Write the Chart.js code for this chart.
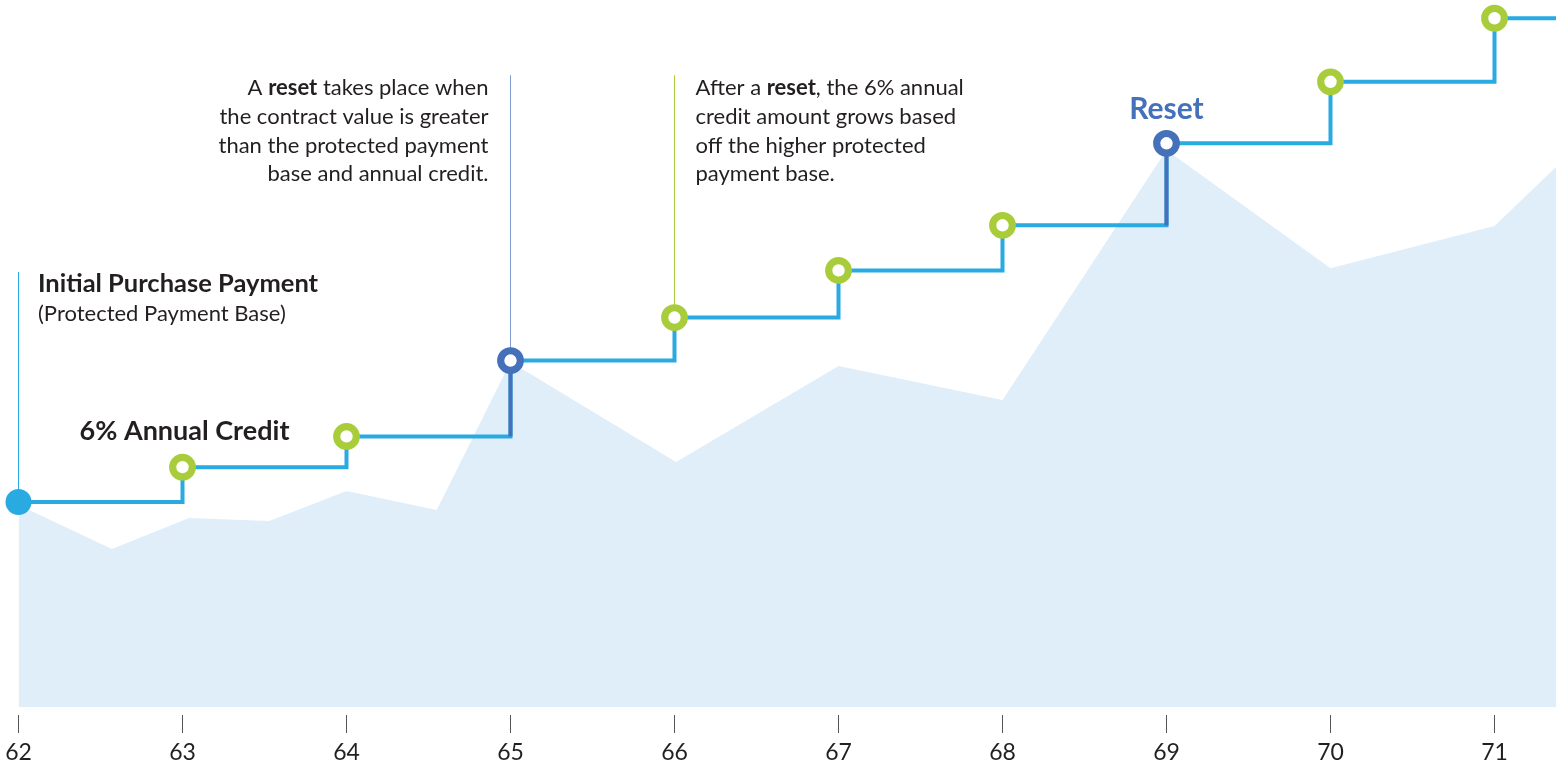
<!DOCTYPE html>
<html>
<head>
<meta charset="utf-8">
<script src="https://cdn.jsdelivr.net/npm/chart.js@4.4.1/dist/chart.umd.min.js"></script>
<style>
html,body{margin:0;padding:0;background:#ffffff;}
#wrap{width:1556px;height:763px;position:relative;}
</style>
</head>
<body>
<div id="wrap"><canvas id="c" width="1556" height="763"></canvas></div>
<script>
// ---- data ----
const ages = [62, 63, 64, 65, 66, 67, 68, 69, 70, 71];
const tickLabels = ['62', '63', '64', '65', '66', '67', '68', '69', '70', '71'];
const protectedBase = [100, 117, 132, 169, 190, 213, 235, 275, 305, 336];
const pointKinds = ['start', 'credit', 'credit', 'reset', 'credit', 'credit', 'credit', 'reset', 'credit', 'credit'];
const contractAges = [62, 62.57, 63.04, 63.53, 64, 64.55, 65, 66.01, 67, 68, 69, 70, 71, 71.375];
const contractValue = [98.5, 77.1, 92.2, 90.7, 105.4, 96.1, 168.3, 119.5, 166.3, 149.8, 271.7, 214.1, 234.6, 263.4];
const leaderAges = [62, 65, 66];
const leaderTops = [212, 308, 308];
const xMin = 62, xMax = 71.375, yMin = -3.9, yMax = 344.9;

// ---- text ----
const initialTitle = 'Initial Purchase Payment';
const initialSub = '(Protected Payment Base)';
const creditLabel = '6% Annual Credit';
const resetLabel = 'Reset';
const resetNote = [
  [['A ', false], ['reset', true], [' takes place when', false]],
  [['the contract value is greater', false]],
  [['than the protected payment', false]],
  [['base and annual credit.', false]]
];
const afterNote = [
  [['After a ', false], ['reset', true], [', the 6% annual', false]],
  [['credit amount grows based', false]],
  [['off the higher protected', false]],
  [['payment base.', false]]
];

// ---- styles ----
const C_LINE = '#29ABE2';
const C_GREEN = '#A9CD3A';
const C_DARK = '#4570BA';
const C_AREA = '#E0EEF9';
const C_TEXT = '#231F20';
const FONT = 'Lato, "Open Sans", sans-serif';

const stepData = ages.map((a, i) => ({x: a, y: protectedBase[i]}));
stepData.push({x: xMax, y: protectedBase[protectedBase.length - 1]});

const resetSets = [];
pointKinds.forEach((k, i) => {
  if (k === 'reset') {
    resetSets.push({
      type: 'line',
      data: [{x: ages[i], y: protectedBase[i - 1]}, {x: ages[i], y: protectedBase[i]}],
      borderColor: C_DARK, borderWidth: 4, pointRadius: 0, fill: false, order: 2, clip: false
    });
  }
});

const leaderColors = [C_LINE, '#7F9BCF', C_GREEN];
const leaderSets = leaderAges.map((a, i) => ({
  type: 'line',
  data: [{x: a, y: leaderTops[i]}, {x: a, y: protectedBase[ages.indexOf(a)]}],
  borderColor: leaderColors[i], borderWidth: 1, pointRadius: 0, fill: false, order: 4, clip: false
}));

const markerColor = k => k === 'start' ? C_LINE : (k === 'reset' ? C_DARK : C_GREEN);

const textPlugin = {
  id: 'notes',
  afterDraw(chart) {
    const ctx = chart.ctx;
    const xs = chart.scales.x;
    ctx.save();
    ctx.textBaseline = 'alphabetic';
    ctx.fillStyle = C_TEXT;
    const reg = '22px ' + FONT, bold = 'bold 22px ' + FONT;
    // initial purchase payment
    const x0 = xs.getPixelForValue(ages[0]) + 19.5;
    ctx.textAlign = 'left';
    ctx.font = 'bold 25.5px ' + FONT; ctx.fillText(initialTitle, x0, 292);
    ctx.font = reg; ctx.fillText(initialSub, x0, 321);
    // 6% annual credit
    ctx.font = 'bold 27px ' + FONT;
    ctx.textAlign = 'center';
    ctx.fillText(creditLabel, xs.getPixelForValue(62) + 166, 440);
    // reset label
    ctx.font = 'bold 30px ' + FONT;
    ctx.fillStyle = C_DARK;
    ctx.fillText(resetLabel, xs.getPixelForValue(69), 119);
    ctx.fillStyle = C_TEXT;
    const drawRich = (lines, xAnchor, align) => {
      ctx.textAlign = 'left';
      lines.forEach((segs, li) => {
        const y = 95 + li * 28.8;
        let w = 0;
        segs.forEach(([t, b]) => { ctx.font = b ? bold : reg; w += ctx.measureText(t).width; });
        let x = align === 'right' ? xAnchor - w : xAnchor;
        segs.forEach(([t, b]) => { ctx.font = b ? bold : reg; ctx.fillText(t, x, y); x += ctx.measureText(t).width; });
      });
    };
    drawRich(resetNote, xs.getPixelForValue(65) - 22, 'right');
    drawRich(afterNote, xs.getPixelForValue(66) + 21, 'left');
    ctx.restore();
  }
};

new Chart(document.getElementById('c'), {
  type: 'line',
  data: {
    datasets: [
      {
        data: ages.map((a, i) => ({x: a, y: protectedBase[i]})),
        showLine: false,
        pointRadius: pointKinds.map(k => k === 'start' ? 13 : 9.8),
        pointBorderWidth: pointKinds.map(k => k === 'start' ? 0 : 7.2),
        pointBackgroundColor: pointKinds.map(k => k === 'start' ? C_LINE : '#ffffff'),
        pointBorderColor: pointKinds.map(markerColor),
        order: 0, clip: false
      },
      ...resetSets,
      {
        data: stepData, stepped: true, borderColor: C_LINE, borderWidth: 4,
        pointRadius: 0, fill: false, order: 3, clip: false
      },
      ...leaderSets,
      {
        data: contractAges.map((a, i) => ({x: a, y: contractValue[i]})),
        borderWidth: 0, borderColor: 'rgba(0,0,0,0)', backgroundColor: C_AREA,
        pointRadius: 0, fill: {value: 0}, tension: 0, order: 5
      }
    ]
  },
  options: {
    responsive: false,
    animation: false,
    events: [],
    layout: {autoPadding: false, padding: {left: 18.5, right: 0, top: 0, bottom: 0}},
    plugins: {legend: {display: false}, tooltip: {enabled: false}, title: {display: false}},
    scales: {
      x: {
        type: 'linear', min: xMin, max: xMax,
        border: {display: false},
        grid: {display: true, drawOnChartArea: false, drawTicks: true, tickLength: 18, color: '#555555', lineWidth: 1},
        afterBuildTicks: s => { s.ticks = ages.map(v => ({value: v})); },
        afterFit: s => { s.height = 48; s.paddingLeft = 0; s.paddingRight = 0; s.paddingTop = 0; s.paddingBottom = 0; },
        ticks: {
          autoSkip: false, maxRotation: 0, includeBounds: false, padding: 6,
          color: C_TEXT, font: {family: FONT, size: 23},
          callback: v => tickLabels[ages.indexOf(v)]
        }
      },
      y: {type: 'linear', display: false, min: yMin, max: yMax}
    }
  },
  plugins: [textPlugin]
});
</script>
</body>
</html>
